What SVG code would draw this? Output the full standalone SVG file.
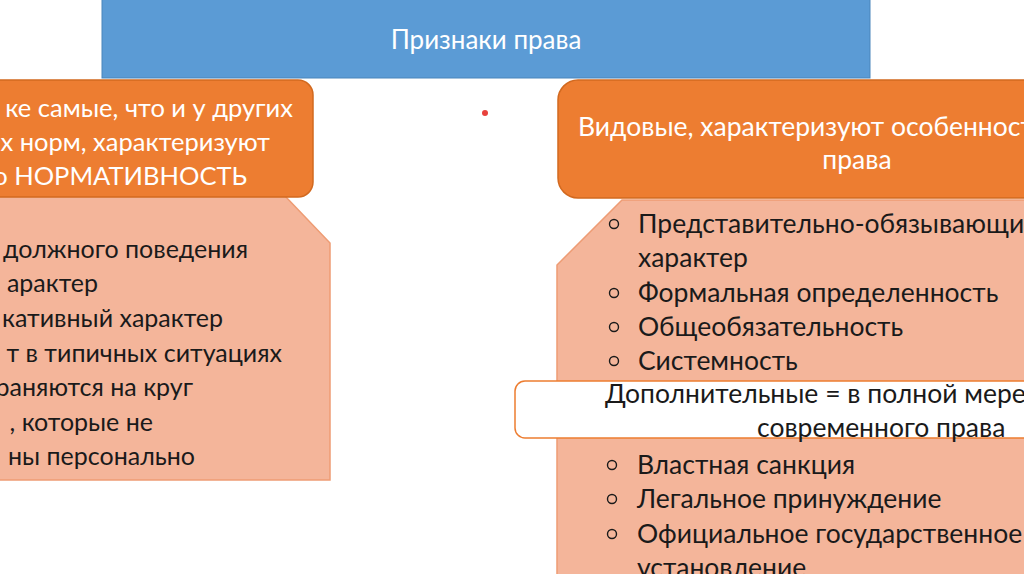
<svg xmlns="http://www.w3.org/2000/svg" width="1024" height="574" viewBox="0 0 1024 574">
<style>
.hdr{fill:#5B9BD5;stroke:#4A85BB;stroke-width:1}
.org{fill:#ED7D31;stroke:#D2691F;stroke-width:1.5}
.pink{fill:#F4B59A;stroke:#EE9C74;stroke-width:1.5}
.wt{font-family:Lato,"Liberation Sans",sans-serif;font-size:26.5px;fill:#FFFFFF}
.wl{font-family:Lato,"Liberation Sans",sans-serif;font-size:25.5px;fill:#FFFFFF}
.bt{font-family:Lato,"Liberation Sans",sans-serif;font-size:26.5px;fill:#1A1A1A}
.bl{font-family:Lato,"Liberation Sans",sans-serif;font-size:25px;fill:#1A1A1A}
.bul{fill:none;stroke:#1A1A1A;stroke-width:1.4}
</style>
<rect width="1024" height="574" fill="#FFFFFF"/>
<g id="header">
<rect class="hdr" x="102" y="-2" width="768" height="80"/>
<text x="486" y="49" text-anchor="middle" font-family="Lato,'Liberation Sans',sans-serif" font-size="26" fill="#FFFFFF">Признаки права</text>
</g>
<g id="connectors"></g>
<g id="left-body">
<path class="pink" d="M-10 196 L285 196 L330 243 L330 480 L-10 480 Z"/>
<g class="bl" text-anchor="end">
<text x="248" y="258">должного поведения</text>
<text x="98" y="292">арактер</text>
<text x="223" y="327">кативный характер</text>
<text x="282" y="362">т в типичных ситуациях</text>
<text x="193" y="396">раняются на круг</text>
<text x="153" y="431">, которые не</text>
<text x="195" y="465">ны персонально</text>
</g>
</g>
<g id="left-head">
<rect class="org" x="-30" y="80" width="343" height="117" rx="15"/>
<g class="wl" text-anchor="end">
<text x="293" y="117">ке самые, что и у других</text>
<text x="270" y="151">х норм, характеризуют</text>
<text x="247" y="185">но НОРМАТИВНОСТЬ</text>
</g>
</g>
<g id="right-body">
<path class="pink" d="M622 200 L1040 200 L1040 590 L557 590 L557 265 Z"/>
<g class="bt">
<text x="638" y="233">Представительно-обязывающий</text>
<text x="638" y="267">характер</text>
<text x="638" y="302">Формальная определенность</text>
<text x="638" y="336">Общеобязательность</text>
<text x="638" y="370">Системность</text>
<text x="637" y="474">Властная санкция</text>
<text x="637" y="508">Легальное принуждение</text>
<text x="637" y="543">Официальное государственное</text>
<text x="637" y="577">установление</text>
</g>
<g class="bul">
<circle cx="614" cy="224" r="4.5"/>
<circle cx="614" cy="293" r="4.5"/>
<circle cx="614" cy="327" r="4.5"/>
<circle cx="614" cy="361" r="4.5"/>
<circle cx="612" cy="465" r="4.5"/>
<circle cx="612" cy="499" r="4.5"/>
<circle cx="612" cy="534" r="4.5"/>
</g>
</g>
<g id="right-head">
<rect class="org" x="558" y="80" width="500" height="118" rx="20"/>
<text class="wt" x="578" y="136">Видовые, характеризуют особенности</text>
<text class="wt" x="857" y="169" text-anchor="middle">права</text>
</g>
<g id="additional">
<rect x="515" y="381" width="540" height="57" rx="10" fill="#FFFFFF" stroke="#ED7D31" stroke-width="1.5"/>
<text class="bt" x="605" y="403">Дополнительные = в полной мере</text>
<text class="bt" x="757" y="437">современного права</text>
</g>
<circle id="dot" cx="485" cy="113" r="3" fill="#E8413C"/>
</svg>
